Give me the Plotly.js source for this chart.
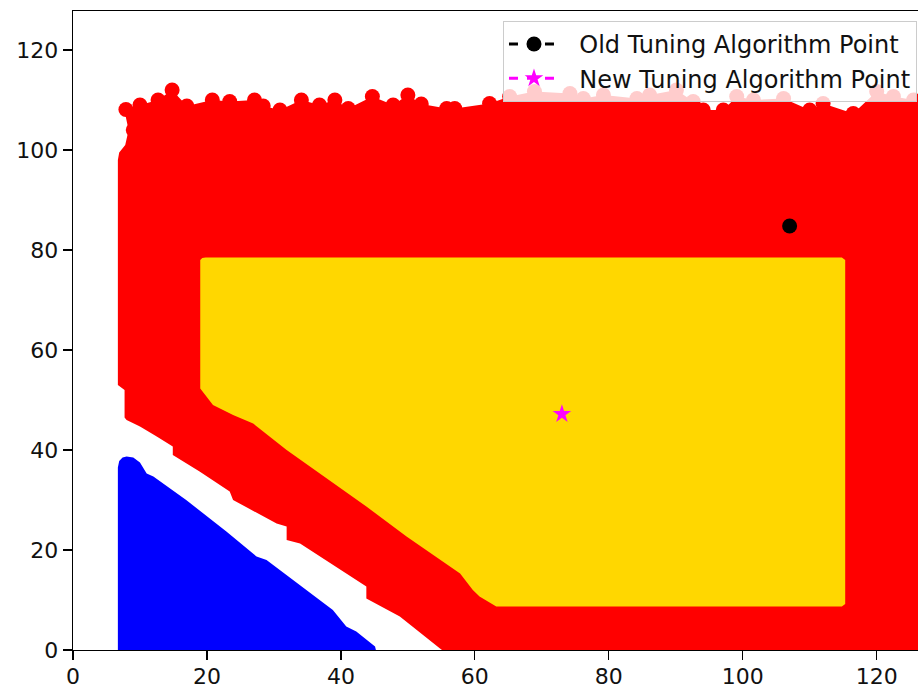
<!DOCTYPE html>
<html>
<head>
<meta charset="utf-8">
<script src="https://cdn.plot.ly/plotly-3.0.1.min.js"></script>
<style>html,body{margin:0;padding:0;background:#fff;}#chart{width:918px;height:688px;}</style>
</head>
<body>
<div id="chart"></div>
<script>
// Outline of the red (region) cloud (top edge follows the bumps)
const redX = [6.7, 6.9, 7.8, 8.3, 7.9, 7.9, 10.0, 12.7, 14.8, 17.0, 20.8, 23.4, 27.1, 28.4, 30.9, 34.1, 36.8, 39.1, 41.1, 44.7, 47.8, 50.0, 52.0, 55.8, 57.0, 62.2, 65.2, 68.9, 74.2, 76.2, 79.2, 84.2, 86.1, 90.1, 92.6, 94.1, 97.1, 99.1, 101.6, 106.1, 110.0, 112.0, 116.5, 120.0, 122.5, 125.5, 130,
  130, 60, 54.8, 48.8, 43.8, 43.8, 33.9, 31.9, 31.9, 30.4, 23.9, 23.4, 18.9, 14.9, 14.9, 12.5, 10.0, 8.0, 7.7, 7.7, 6.7, 6.7];
const redY = [98, 99.5, 101, 104, 106.5, 108.1, 109.0, 110.0, 112.0, 108.8, 110.0, 109.7, 110.0, 108.8, 108.0, 110.0, 109.0, 110.0, 108.3, 110.7, 109.0, 111.0, 109.2, 108.3, 108.3, 109.3, 110.7, 111.7, 111.3, 110.3, 111.0, 110.3, 111.0, 112.0, 109.7, 108.0, 108.0, 110.7, 110.0, 110.3, 108.0, 109.3, 107.3, 111.7, 110.7, 110.0, 110.0,
  -5, -5, 0.3, 6.7, 10.3, 12.7, 21.3, 22.0, 24.7, 25.3, 30.0, 31.7, 35.7, 39.0, 40.7, 42.7, 44.7, 46.0, 46.5, 52.0, 53.0, 98];
// Points along the bumpy upper edge of the red cloud
const redTopX = [7.9, 9.0, 10.0, 12.7, 14.8, 17.0, 20.8, 23.4, 27.1, 28.4, 30.9, 34.1, 36.8, 39.1, 41.1, 44.7, 47.8, 50.0, 52.0, 54.5, 55.8, 57.0, 59.2, 62.2, 65.2, 68.9, 74.2, 76.2, 79.2, 84.2, 86.1, 89.1, 90.1, 92.6, 94.1, 97.1, 99.1, 101.6, 106.1, 110.0, 112.0, 116.5, 120.0, 120.5, 122.5, 124.0, 125.5];
const redTopY = [108.1, 104.0, 109.0, 110.0, 112.0, 108.8, 110.0, 109.7, 110.0, 108.8, 108.0, 110.0, 109.0, 110.0, 108.3, 110.7, 109.0, 111.0, 109.2, 105.7, 108.3, 108.3, 106.2, 109.3, 110.7, 111.7, 111.3, 110.3, 111.0, 110.3, 111.0, 107.7, 112.0, 109.7, 108.0, 108.0, 110.7, 110.0, 110.3, 108.0, 109.3, 107.3, 111.7, 107.0, 110.7, 107.0, 110.0];
// Outline of the yellow (gold) region
const goldX = [19.0, 19.3, 19.8, 114.8, 115.3, 115.3, 114.8, 63.2, 60.7, 59.7, 57.8, 49.8, 43.8, 36.8, 31.9, 26.9, 23.9, 20.9, 19.0, 19.0];
const goldY = [78.0, 78.4, 78.5, 78.5, 78.0, 9.2, 8.7, 8.7, 10.7, 12.0, 15.3, 22.7, 28.7, 35.3, 40.0, 45.3, 47.0, 49.0, 52.3, 78.0];
// Outline of the blue region
const blueX = [6.7, 6.9, 7.4, 8.0, 9.0, 10.0, 11.0, 12.0, 16.9, 22.9, 27.4, 28.9, 38.8, 40.8, 42.3, 45.1, 45.6, 6.7];
const blueY = [36.5, 37.8, 38.5, 38.7, 38.5, 37.5, 35.3, 34.7, 30.0, 23.7, 18.7, 18.0, 8.0, 4.7, 3.7, 0.7, -2, -2];
// Highlighted points
const oldName = "\u00a0\u00a0Old Tuning Algorithm Point";
const oldX = [107.0];
const oldY = [84.8];
const newName = "\u00a0\u00a0New Tuning Algorithm Point";
const newX = [73.0];
const newY = [47.2];
// Axis ticks
const tickVals = [0, 20, 40, 60, 80, 100, 120];
const tickText = ["0", "20", "40", "60", "80", "100", "120"];

const RED = "#ff0000", GOLD = "#ffd700", BLUE = "#0000ff";
const traces = [
  {x: redX, y: redY, type: "scatter", mode: "lines", fill: "toself", fillcolor: RED,
   line: {color: RED, width: 0}, showlegend: false, hoverinfo: "skip"},
  {x: redTopX, y: redTopY, type: "scatter", mode: "markers",
   marker: {color: RED, size: 15, line: {width: 0}}, showlegend: false, hoverinfo: "skip"},
  {x: goldX, y: goldY, type: "scatter", mode: "lines", fill: "toself", fillcolor: GOLD,
   line: {color: GOLD, width: 0}, showlegend: false, hoverinfo: "skip"},
  {x: blueX, y: blueY, type: "scatter", mode: "lines", fill: "toself", fillcolor: BLUE,
   line: {color: BLUE, width: 0}, showlegend: false, hoverinfo: "skip"},
  {x: oldX, y: oldY, name: oldName, type: "scatter", mode: "lines+markers",
   line: {color: "#000", dash: "dash", width: 3},
   marker: {color: "#000", size: 15, symbol: "circle"}},
  {x: newX, y: newY, name: newName, type: "scatter", mode: "lines+markers",
   line: {color: "#ff00ff", dash: "dash", width: 3},
   marker: {color: "#ff00ff", size: 14, symbol: "star"}}
];

const font = {family: "DejaVu Sans", size: 22, color: "#111"};
const layout = {
  width: 918, height: 688,
  margin: {l: 73, r: 0, t: 11, b: 38, pad: 0},
  paper_bgcolor: "#fff", plot_bgcolor: "#fff",
  font: font,
  xaxis: {range: [0, 126.17], tickvals: tickVals, ticktext: tickText,
    showgrid: false, zeroline: false, showline: true, mirror: true, linecolor: "#000", linewidth: 1.3,
    ticks: "outside", ticklen: 9, tickwidth: 1.3, tickcolor: "#000", tickfont: font, ticklabelstandoff: -3},
  yaxis: {range: [0, 127.8], tickvals: tickVals, ticktext: tickText,
    showgrid: false, zeroline: false, showline: true, mirror: false, linecolor: "#000", linewidth: 1.3,
    ticks: "outside", ticklen: 9, tickwidth: 1.3, tickcolor: "#000", tickfont: font},
  legend: {x: 0.9988, xanchor: "right", y: 0.9844, yanchor: "top",
    bgcolor: "rgba(255,255,255,0.8)", bordercolor: "#cccccc", borderwidth: 1,
    font: {family: "DejaVu Sans", size: 24, color: "#111"}, itemwidth: 50, traceorder: "normal"},
  showlegend: true
};
Plotly.newPlot("chart", traces, layout, {staticPlot: true, displayModeBar: false});
</script>
</body>
</html>
